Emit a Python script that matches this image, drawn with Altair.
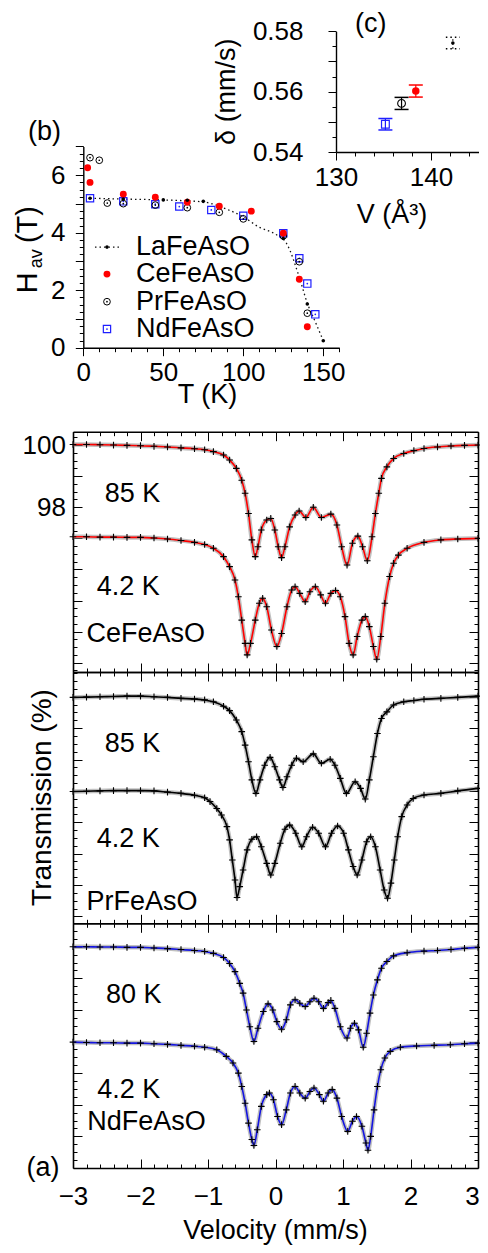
import altair as alt
import pandas as pd

FONT = "Liberation Sans"
W, H = 405, 1137  # plot area: page x 73..478, y 31..1168

# ================= DATA =================
# ---- panel (b): H_av (T) versus T (K) ----
LA_T = [4.2, 25, 50, 65, 75, 125, 140, 150]
LA_H = [5.20, 5.17, 5.14, 5.13, 5.09, 3.80, 1.52, 0.24]
LA_FIT_T = [4.2, 25, 50, 75, 90, 100, 110, 120, 127, 135, 140, 145, 150]
LA_FIT_H = [5.20, 5.17, 5.14, 5.07, 4.81, 4.55, 4.19, 3.95, 3.63, 2.45, 1.55, 0.90, 0.24]
CE_T = [2.7, 4.2, 25, 45, 65, 85, 105, 125, 135, 140]
CE_H = [6.26, 5.75, 5.34, 5.23, 5.06, 4.92, 4.75, 3.98, 2.38, 0.73]
PR_T = [4.2, 10, 15, 25, 45, 65, 85, 100, 125, 135, 140]
PR_H = [6.61, 6.52, 5.03, 5.01, 4.96, 4.87, 4.71, 4.48, 3.89, 2.99, 1.20]
ND_T = [4.2, 25, 45, 60, 80, 100, 125, 135, 140, 145]
ND_H = [5.20, 5.09, 4.99, 4.91, 4.79, 4.59, 3.98, 3.11, 2.23, 1.16]
LEG_NAMES = ["LaFeAsO", "CeFeAsO", "PrFeAsO", "NdFeAsO"]
LEG_H = [3.50, 2.56, 1.60, 0.65]

# ---- panel (c): isomer shift vs cell volume ----
C_NAMES = ["NdFeAsO", "PrFeAsO", "CeFeAsO", "LaFeAsO"]
C_V = [135.2, 136.9, 138.4, 142.3]
C_D = [0.5492, 0.5561, 0.5602, 0.5761]
C_E = [0.0019, 0.0020, 0.0020, 0.0019]
C_COLORS = ["#1f1fff", "black", "red", "black"]

# ---- panel (a): Moessbauer spectra (velocity mm/s, transmission %) ----
CE85_V = [-3.0, -2.8, -2.6, -2.4, -2.2, -2.0, -1.8, -1.6, -1.4, -1.2, -1.05, -0.92, -0.77, -0.68, -0.58, -0.50, -0.45, -0.40, -0.35, -0.30,
          -0.26, -0.21, -0.13, -0.07, -0.01, 0.04, 0.09, 0.14, 0.21, 0.29, 0.35, 0.45, 0.56, 0.68, 0.82, 0.91, 0.98, 1.06, 1.14, 1.22,
          1.29, 1.36, 1.43, 1.48, 1.53, 1.57, 1.65, 1.75, 1.90, 2.05, 2.2, 2.4, 2.6, 2.8, 3.0]
CE85_T = [100.02, 100.02, 100.01, 100.0, 99.99, 99.98, 99.96, 99.94, 99.91, 99.88, 99.85, 99.79, 99.68, 99.52, 99.25, 98.87, 98.45, 97.80, 96.95, 96.41,
          96.73, 97.27, 97.59, 97.64, 97.27, 96.73, 96.38, 96.73, 97.37, 97.75, 97.88, 97.67, 98.00, 97.67, 97.78, 97.43, 96.73, 96.14, 96.84, 97.07,
          96.73, 96.28, 97.05, 97.80, 98.45, 98.93, 99.30, 99.57, 99.73, 99.82, 99.89, 99.94, 99.97, 99.99, 100.0]
CE4_V = [-3.0, -2.8, -2.6, -2.4, -2.2, -2.0, -1.8, -1.6, -1.4, -1.2, -1.05, -0.92, -0.77, -0.68, -0.60, -0.55, -0.50, -0.45, -0.42, -0.37,
         -0.30, -0.24, -0.19, -0.13, -0.06, 0.02, 0.09, 0.17, 0.24, 0.29, 0.36, 0.44, 0.51, 0.59, 0.67, 0.74, 0.82, 0.89, 0.96, 1.03,
         1.09, 1.15, 1.21, 1.28, 1.33, 1.39, 1.45, 1.50, 1.56, 1.62, 1.69, 1.75, 1.82, 1.95, 2.2, 2.45, 2.7, 3.0]
CE4_T = [97.05, 97.05, 97.04, 97.04, 97.03, 97.03, 97.01, 96.98, 96.93, 96.87, 96.80, 96.68, 96.41, 96.09, 95.66, 95.12, 94.37, 93.62, 93.25, 93.62,
         94.37, 94.91, 95.07, 94.80, 94.05, 93.52, 93.94, 94.80, 95.34, 95.44, 95.23, 94.96, 95.28, 95.44, 95.18, 94.91, 95.23, 95.32, 95.12, 94.48,
         93.62, 93.25, 93.84, 94.37, 94.48, 94.16, 93.52, 93.11, 93.84, 94.91, 95.77, 96.20, 96.46, 96.68, 96.87, 96.95, 96.98, 97.00]
PR85_V = [-3.0, -2.8, -2.6, -2.4, -2.2, -2.0, -1.8, -1.6, -1.4, -1.2, -1.05, -0.92, -0.77, -0.68, -0.58, -0.50, -0.45, -0.40, -0.35, -0.29,
          -0.23, -0.16, -0.08, -0.01, 0.06, 0.11, 0.17, 0.24, 0.31, 0.41, 0.56, 0.68, 0.81, 0.88, 0.96, 1.05, 1.18, 1.26, 1.33, 1.39,
          1.45, 1.51, 1.57, 1.65, 1.75, 1.90, 2.05, 2.2, 2.45, 2.7, 3.0]
PR85_T = [99.98, 99.99, 100.0, 100.01, 100.02, 100.02, 100.0, 99.98, 99.95, 99.93, 99.90, 99.84, 99.70, 99.56, 99.26, 98.89, 98.46, 97.93, 97.35, 96.92,
          97.35, 97.82, 98.07, 97.77, 97.35, 97.11, 97.45, 97.82, 98.04, 97.93, 98.18, 97.88, 98.01, 97.82, 97.40, 96.92, 97.29, 97.08, 96.74, 97.35,
          98.09, 98.83, 99.31, 99.52, 99.74, 99.84, 99.88, 99.92, 99.95, 99.98, 100.02]
PR4_V = [-3.0, -2.8, -2.6, -2.4, -2.2, -2.0, -1.8, -1.6, -1.4, -1.2, -1.05, -0.97, -0.87, -0.80, -0.72, -0.68, -0.64, -0.60, -0.57, -0.53,
         -0.48, -0.42, -0.35, -0.28, -0.21, -0.13, -0.07, -0.01, 0.07, 0.14, 0.21, 0.30, 0.39, 0.46, 0.55, 0.64, 0.74, 0.83, 0.92, 1.01,
         1.08, 1.15, 1.21, 1.28, 1.35, 1.41, 1.48, 1.55, 1.61, 1.66, 1.71, 1.76, 1.81, 1.87, 1.95, 2.04, 2.2, 2.45, 2.7, 3.0]
PR4_T = [96.98, 96.99, 97.00, 97.01, 97.01, 97.01, 97.00, 96.96, 96.92, 96.86, 96.78, 96.66, 96.44, 96.23, 95.86, 95.44, 94.80, 94.16, 93.60, 93.95,
         94.48, 95.12, 95.46, 95.54, 95.22, 94.69, 94.32, 94.69, 95.33, 95.78, 95.91, 95.65, 95.22, 95.54, 95.84, 95.65, 95.22, 95.65, 95.88, 95.65,
         95.12, 94.59, 94.32, 94.80, 95.38, 95.54, 95.22, 94.48, 93.84, 93.58, 94.06, 94.80, 95.54, 96.18, 96.55, 96.76, 96.87, 96.92, 97.00, 97.08]
ND80_V = [-3.0, -2.8, -2.6, -2.4, -2.2, -2.0, -1.8, -1.6, -1.4, -1.2, -1.05, -0.92, -0.77, -0.68, -0.60, -0.53, -0.48, -0.43, -0.38, -0.32,
          -0.26, -0.18, -0.11, -0.04, 0.02, 0.09, 0.16, 0.22, 0.29, 0.36, 0.44, 0.51, 0.57, 0.64, 0.71, 0.78, 0.82, 0.88, 0.96, 1.06,
          1.11, 1.17, 1.23, 1.30, 1.35, 1.40, 1.45, 1.51, 1.57, 1.65, 1.75, 1.95, 2.2, 2.4, 2.6, 2.8, 3.0]
ND80_T = [100.0, 100.0, 99.99, 99.99, 99.98, 99.98, 99.96, 99.94, 99.91, 99.88, 99.85, 99.79, 99.66, 99.47, 99.21, 98.84, 98.53, 98.00, 97.47, 97.00,
          97.42, 97.95, 98.19, 98.00, 97.63, 97.39, 97.69, 98.16, 98.32, 98.21, 98.11, 98.26, 98.37, 98.26, 98.05, 98.23, 98.30, 98.05, 97.47, 97.11,
          97.42, 97.58, 97.37, 96.82, 97.26, 97.90, 98.47, 98.95, 99.32, 99.53, 99.71, 99.81, 99.86, 99.88, 99.91, 99.95, 99.98]
ND4_V = [-3.0, -2.8, -2.6, -2.4, -2.2, -2.0, -1.8, -1.6, -1.4, -1.2, -1.05, -0.87, -0.73, -0.63, -0.55, -0.50, -0.45, -0.40, -0.35, -0.32,
         -0.27, -0.21, -0.13, -0.09, -0.03, 0.03, 0.09, 0.16, 0.22, 0.29, 0.36, 0.44, 0.51, 0.57, 0.65, 0.71, 0.78, 0.84, 0.91, 0.98,
         1.07, 1.14, 1.20, 1.28, 1.34, 1.37, 1.41, 1.46, 1.51, 1.56, 1.62, 1.70, 1.85, 2.09, 2.35, 2.59, 2.8, 3.0]
ND4_T = [96.98, 96.97, 96.96, 96.96, 96.95, 96.95, 96.93, 96.91, 96.88, 96.85, 96.82, 96.74, 96.53, 96.32, 96.00, 95.58, 95.05, 94.42, 93.90, 93.71,
         94.21, 94.95, 95.32, 95.37, 95.16, 94.63, 94.37, 94.84, 95.37, 95.58, 95.37, 95.21, 95.42, 95.53, 95.32, 95.11, 95.37, 95.48, 95.21, 94.63,
         94.16, 94.48, 94.63, 94.32, 93.79, 93.56, 94.00, 94.84, 95.58, 96.11, 96.48, 96.69, 96.82, 96.86, 96.88, 96.90, 96.93, 96.95]

A_LABELS = [["85 K", "4.2 K", "CeFeAsO"], ["85 K", "4.2 K", "PrFeAsO"], ["80 K", "4.2 K", "NdFeAsO"]]
A_LAB_X = [[-2.53, -2.65, -2.80], [-2.53, -2.65, -2.80], [-2.51, -2.64, -2.79]]
A_LAB_Y = [[98.17, 95.18, 93.68], [98.25, 95.22, 93.21], [98.21, 95.21, 94.21]]

# tick values
XMAJ = [-3, -2, -1, 0, 1, 2, 3]
XMIN = [-2.8, -2.6, -2.4, -2.2, -1.8, -1.6, -1.4, -1.2, -0.8, -0.6, -0.4, -0.2,
        0.2, 0.4, 0.6, 0.8, 1.2, 1.4, 1.6, 1.8, 2.2, 2.4, 2.6, 2.8]
YMAJ = [93, 94, 95, 96, 97, 98, 99, 100]
YMIN_ALL = [92.75] + [b + f for b in range(93, 101) for f in (0.25, 0.5, 0.75)]
B_XMAJ = [0, 50, 100, 150]
B_XMIN = [10, 20, 30, 40, 60, 70, 80, 90, 110, 120, 130, 140, 160]
B_YMAJ = [0, 1, 2, 3, 4, 5, 6, 7]
B_YMIN = [b + f for b in range(0, 7) for f in (0.25, 0.5, 0.75)]
C_XMAJ = [130, 140]
C_XMIN = [132, 134, 136, 138, 142, 144]
C_YMAJ = [0.54, 0.55, 0.56, 0.57, 0.58]
C_YMIN = [0.545, 0.555, 0.565, 0.575]

# ================= helpers =================
def sc(dom, rng):
    return alt.Scale(domain=dom, range=rng, nice=False, zero=False)


def ax(orient, offset, values, size=0, domain=False, labels=False, dw=1.6, tw=1.0, **kw):
    opts = dict(orient=orient, offset=offset, values=values, grid=False,
                domain=domain, labels=labels, ticks=size > 0, tickSize=size,
                domainColor="black", domainWidth=dw, tickColor="black", tickWidth=tw,
                labelFlush=False, labelOverlap=False, labelFont=FONT,
                labelFontSize=26, labelColor="black")
    opts.update(kw)
    return alt.Axis(**opts)


def put(base, xs, ys, xf="x", yf="y", xaxis=None, yaxis=None, **extra):
    return base.encode(
        x=alt.X(xf, type="quantitative", scale=xs, axis=xaxis, title=None),
        y=alt.Y(yf, type="quantitative", scale=ys, axis=yaxis, title=None),
        **extra)


def frame(x, y):
    return pd.DataFrame({"x": x, "y": y})


def texts(labels, xv, yv, xs, ys, size, align="left", baseline="alphabetic", angle=0):
    d = pd.DataFrame({"x": xv, "y": yv, "t": labels})
    m = alt.Chart(d).mark_text(font=FONT, fontSize=size, align=align, baseline=baseline,
                               color="black", angle=angle)
    return put(m, xs, ys, text="t:N")


CROSS = "M-1,0L1,0M0,-1L0,1"
CAP = "M-1,0L1,0"
HOST = pd.DataFrame({"x": [0.0], "y": [0.0]})

# ================= scales =================
XA = sc([-3, 3], [0, 405])
YA_DOM = [[92.70, 100.43], [92.78, 100.79], [93.0, 100.74]]
A_TOP = [400.7, 641, 892.3]
A_BOT = [641, 892.3, 1137]
YA = [sc(YA_DOM[i], [A_BOT[i], A_TOP[i]]) for i in range(3)]
XB = sc([0, 160], [10.3, 266.3])
YB = sc([0, 7], [316.7, 115.45])
B_AX_Y = 316.7
XC = sc([130, 145], [263, 405.5])
YC = sc([0.54, 0.58], [121, 0.3])
C_AX_Y = 121

layers = []

# ================= panel (a) =================
SPECTRA = [((CE85_V, CE85_T), (CE4_V, CE4_T), "red"),
           ((PR85_V, PR85_T), (PR4_V, PR4_T), "black"),
           ((ND80_V, ND80_T), (ND4_V, ND4_T), "#1414e0")]
for i in range(3):
    ys, top, bot = YA[i], A_TOP[i], A_BOT[i]
    lo, hi = YA_DOM[i]
    ymin = [v for v in YMIN_ALL if lo < v < hi]
    ymaj = [v for v in YMAJ if lo < v < hi]
    s_hi, s_lo, col = SPECTRA[i]
    d_hi, d_lo = frame(*s_hi), frame(*s_lo)
    fuzz_kw = dict(color="#8c8c8c", strokeWidth=4.5, opacity=0.55, interpolate="monotone")
    line_kw = dict(color=col, strokeWidth=1.6, interpolate="monotone")
    cross_kw = dict(shape=CROSS, filled=False, color="black", strokeWidth=1.1, size=44, opacity=1)
    layers.append(put(alt.Chart(d_hi).mark_line(**fuzz_kw), XA, ys))
    layers.append(put(alt.Chart(d_lo).mark_line(**fuzz_kw), XA, ys))
    layers.append(put(alt.Chart(d_hi).mark_line(**line_kw), XA, ys,
                      xaxis=ax("top", -bot, XMAJ, 9, True),
                      yaxis=ax("right", -W, ymaj, 9, True)))
    layers.append(put(alt.Chart(d_lo).mark_line(**line_kw), XA, ys,
                      xaxis=ax("bottom", top - H, XMAJ, 9, True),
                      yaxis=ax("left", -W, ymaj, 9, True)))
    layers.append(put(alt.Chart(d_hi).mark_point(**cross_kw), XA, ys,
                      xaxis=ax("top", -bot, XMIN, 4),
                      yaxis=ax("right", -W, ymin, 4)))
    layers.append(put(alt.Chart(d_lo).mark_point(**cross_kw), XA, ys,
                      xaxis=ax("bottom", top - H, XMIN, 4),
                      yaxis=ax("left", -W, ymin, 4)))
    layers.append(texts(A_LABELS[i], A_LAB_X[i], A_LAB_Y[i], XA, ys, 27))

# tick labels of panel (a); the last label is nudged so it stays inside the page
layers.append(put(alt.Chart(HOST).mark_point(opacity=0), XA, YA[0],
                  xaxis=ax("bottom", 0, XMAJ, 0, labels=True, labelPadding=15.7, format="d",
                           labelOffset={"condition": {"test": "datum.value == 3", "value": -6},
                                        "value": 0}),
                  yaxis=ax("left", 0, [98, 100], 0, labels=True, labelPadding=7.5, format="d")))
layers.append(texts(["(a)"], [-3.69], [92.76], XA, YA[2], 27))
layers.append(texts(["Velocity (mm/s)"], [0.0], [90.77], XA, YA[2], 27, align="center"))
layers.append(texts(["Transmission (%)"], [-3.45], [96.79], XA, YA[1], 28,
                    align="center", baseline="middle", angle=270))

# ================= panel (b) =================
layers.append(put(alt.Chart(frame(LA_FIT_T, LA_FIT_H)).mark_line(
    color="#111111", strokeWidth=1.3, strokeDash=[1.5, 3], interpolate="monotone"), XB, YB,
    xaxis=ax("bottom", B_AX_Y - H, B_XMAJ, 8, True, dw=1.4),
    yaxis=ax("left", -10.3, B_YMAJ, 8, True, dw=1.4)))
layers.append(put(alt.Chart(HOST).mark_point(opacity=0), XB, YB,
                  xaxis=ax("bottom", B_AX_Y - H, B_XMIN, 4),
                  yaxis=ax("left", -10.3, B_YMIN, 4)))
layers.append(put(alt.Chart(HOST).mark_point(opacity=0), XB, YB,
                  xaxis=ax("bottom", B_AX_Y - H, B_XMAJ, 0, labels=True, labelPadding=11.3, format="d"),
                  yaxis=ax("left", -10.3, [0, 2, 4, 6], 0, labels=True, labelPadding=18.3, format="d")))

LEG_MARK_T = [14.8]
d_nd = frame(ND_T, ND_H)
d_pr = frame(PR_T, PR_H)
d_ce = frame(CE_T, CE_H)
d_la = frame(LA_T, LA_H)
for d in (d_nd, frame(LEG_MARK_T, [LEG_H[3]])):
    layers.append(put(alt.Chart(d).mark_point(shape="square", filled=False, color="#1f1fff",
                                              strokeWidth=1.2, size=53, opacity=1), XB, YB))
    layers.append(put(alt.Chart(d).mark_point(shape="circle", filled=True, color="#1f1fff",
                                              size=3, opacity=1), XB, YB))
for d in (d_pr, frame(LEG_MARK_T, [LEG_H[2]])):
    layers.append(put(alt.Chart(d).mark_point(shape="circle", filled=False, color="black",
                                              strokeWidth=1.0, size=45, opacity=1), XB, YB))
    layers.append(put(alt.Chart(d).mark_point(shape="circle", filled=True, color="black",
                                              size=3, opacity=1), XB, YB))
for d in (d_ce, frame(LEG_MARK_T, [LEG_H[1]])):
    layers.append(put(alt.Chart(d).mark_point(shape="circle", filled=True, color="red",
                                              size=48, opacity=1), XB, YB))
layers.append(put(alt.Chart(frame([7.3, 22.3], [LEG_H[0], LEG_H[0]])).mark_line(
    color="#111111", strokeWidth=1.3, strokeDash=[1.5, 3]), XB, YB))
for d in (d_la, frame(LEG_MARK_T, [LEG_H[0]])):
    layers.append(put(alt.Chart(d).mark_point(shape="circle", filled=True, color="black",
                                              size=13, opacity=1), XB, YB))
layers.append(texts(LEG_NAMES, [32.9] * 4, LEG_H, XB, YB, 27, baseline="middle"))
layers.append(texts(["(b)"], [-34.6], [7.22], XB, YB, 27))
layers.append(texts(["T (K)"], [77.6], [-1.93], XB, YB, 27, align="center"))
layers.append(texts(["H", "(T)"], [-29.1, -29.1], [1.89, 3.64], XB, YB, 29, angle=270))
layers.append(texts(["av"], [-25.8], [2.76], XB, YB, 18, angle=270))

# ================= panel (c) =================
dC = pd.DataFrame({"name": C_NAMES, "x": C_V, "y": C_D})
dC["lo"] = dC["y"] - pd.Series(C_E)
dC["hi"] = dC["y"] + pd.Series(C_E)
CSCALE = alt.Scale(domain=C_NAMES, range=C_COLORS)
col = alt.Color("name:N", scale=CSCALE, legend=None)
solid = dC[dC["name"] != "LaFeAsO"]
dotted = dC[dC["name"] == "LaFeAsO"]

layers.append(put(alt.Chart(solid).mark_rule(strokeWidth=1.2), XC, YC, yf="lo",
                  xaxis=ax("bottom", C_AX_Y - H, C_XMAJ, 8, True, dw=1.4),
                  yaxis=ax("left", -263, C_YMAJ, 8, True, dw=1.4),
                  y2=alt.Y2("hi"), color=col))
layers.append(put(alt.Chart(dotted).mark_rule(strokeWidth=1.2, strokeDash=[1.5, 2.5]), XC, YC,
                  yf="lo", y2=alt.Y2("hi"), color=col))
for yf in ("lo", "hi"):
    layers.append(put(alt.Chart(solid).mark_point(shape=CAP, filled=False, strokeWidth=1.5,
                                                  size=196, opacity=1), XC, YC, yf=yf, color=col))
    layers.append(put(alt.Chart(dotted).mark_point(shape=CAP, filled=False, strokeWidth=1.5,
                                                   strokeDash=[1.5, 3], size=196, opacity=1),
                      XC, YC, yf=yf, color=col))
layers.append(put(alt.Chart(HOST).mark_point(opacity=0), XC, YC,
                  xaxis=ax("bottom", C_AX_Y - H, C_XMIN, 4),
                  yaxis=ax("left", -263, C_YMIN, 4)))
layers.append(put(alt.Chart(HOST).mark_point(opacity=0), XC, YC,
                  xaxis=ax("bottom", C_AX_Y - H, C_XMAJ, 0, labels=True, labelPadding=12, format="d"),
                  yaxis=ax("left", -263, [0.54, 0.56, 0.58], 0, labels=True, labelPadding=33, format=".2f")))
nd_c = dC[dC["name"] == "NdFeAsO"]
pr_c = dC[dC["name"] == "PrFeAsO"]
ce_c = dC[dC["name"] == "CeFeAsO"]
layers.append(put(alt.Chart(nd_c).mark_point(shape="square", filled=False, color="#1f1fff",
                                             strokeWidth=1.2, size=60, opacity=1), XC, YC))
layers.append(put(alt.Chart(pr_c).mark_point(shape="circle", filled=False, color="black",
                                             strokeWidth=1.1, size=60, opacity=1), XC, YC))
layers.append(put(alt.Chart(ce_c).mark_point(shape="circle", filled=True, color="red",
                                             size=56, opacity=1), XC, YC))
layers.append(put(alt.Chart(dotted).mark_point(shape="circle", filled=True, color="black",
                                               size=13, opacity=1), XC, YC))
layers.append(texts(["(c)"], [132.0], [0.5797], XC, YC, 27))
layers.append(texts(["V (Å³)"], [135.9], [0.5165], XC, YC, 27, align="center"))
layers.append(texts(["δ (mm/s)"], [118.5], [0.56], XC, YC, 27, align="center",
                    baseline="middle", angle=270))

chart = (
    alt.layer(*layers)
    .resolve_scale(x="independent", y="independent")
    .resolve_axis(x="independent", y="independent")
    .properties(width=W, height=H,
                padding={"left": 65, "top": 23, "right": 2, "bottom": 77},
                autosize=alt.AutoSizeParams(type="none"))
    .configure_view(stroke=None)
)
chart.save("out.html", embed_options={"renderer": "svg", "actions": False})
